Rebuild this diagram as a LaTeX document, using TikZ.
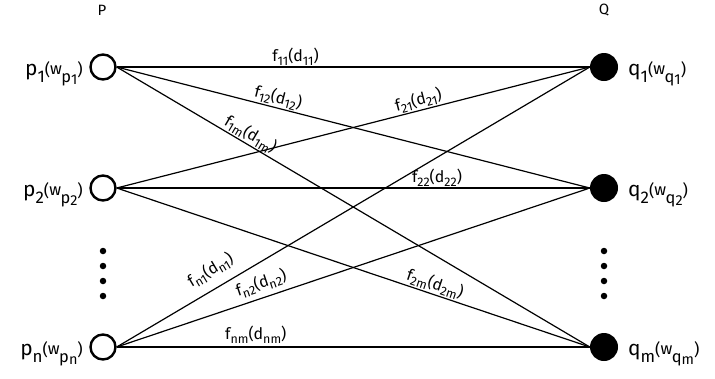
\documentclass[tikz,border=0pt]{standalone}
\usepackage{fontspec}
\setmainfont{Fira Sans}
\newcommand\PQlab[2]{{\fontsize{21}{24}\selectfont #1}\raisebox{-6.5bp}{\fontsize{17}{20}\selectfont #2}{\fontsize{16.5}{19}\selectfont(\raisebox{1.5bp}{w}\kern-0.5bp\raisebox{-6.5bp}{#1\raisebox{-2bp}{\fontsize{14.5}{16}\selectfont #2}})}}
\newcommand\Flab[1]{f\raisebox{-3.5bp}{\fontsize{12.5}{15}\selectfont #1}(d\raisebox{-3.5bp}{\fontsize{12.5}{15}\selectfont #1})}
\begin{document}
\begin{tikzpicture}[x=1bp,y=-1bp,
  pnode/.style={circle,draw,line width=2.4bp,minimum size=25bp,inner sep=0pt},
  qnode/.style={circle,fill,minimum size=28bp,inner sep=0pt},
  vdot/.style={circle,fill,minimum size=6.5bp,inner sep=0pt},
  nlab/.style={inner sep=0pt},
  elab/.style={font=\fontsize{16}{20}\selectfont,inner sep=1bp,sloped,above},
  edge/.style={line width=1.2bp},
  hdr/.style={font=\fontsize{15}{18}\selectfont}]
\useasboundingbox (0,0) rectangle (715,378);
\node[hdr] (P) at (102,10) {P};
\node[hdr] (Q) at (604,10) {Q};
\node[pnode] (p1) at (103,67) {};
\node[pnode] (p2) at (103,188) {};
\node[pnode] (pn) at (103,347) {};
\node[qnode] (q1) at (604,67) {};
\node[qnode] (q2) at (604,188) {};
\node[qnode] (qm) at (604,347) {};
\node[nlab,anchor=base east] (lp1) at (83,75.5) {\PQlab{p}{1}};
\node[nlab,anchor=base east] (lp2) at (83,196.5) {\PQlab{p}{2}};
\node[nlab,anchor=base east] (lpn) at (83,355.5) {\PQlab{p}{n}};
\node[nlab,anchor=base west] (lq1) at (628,75.5) {\PQlab{q}{1}};
\node[nlab,anchor=base west] (lq2) at (628,196.5) {\PQlab{q}{2}};
\node[nlab,anchor=base west] (lqm) at (628,355.5) {\PQlab{q}{m}};
\foreach \i/\y in {1/251,2/266,3/281,4/296}{
  \node[vdot] (pd\i) at (103,\y) {};
  \node[vdot] (qd\i) at (604,\y) {};
}
\draw[edge] (p1.east) -- node[elab,pos=0.378] {\Flab{11}} (q1.west);
\draw[edge] (p1.east) -- node[elab,pos=0.336] {\Flab{12}} (q2.west);
\draw[edge] (p1.east) -- node[elab,pos=0.272] {\Flab{1m}} (qm.west);
\draw[edge] (p2.east) -- node[elab,pos=0.643] {\Flab{21}} (q1.west);
\draw[edge] (p2.east) -- node[elab,pos=0.677] {\Flab{22}} (q2.west);
\draw[edge] (p2.east) -- node[elab,pos=0.666] {\Flab{2m}} (qm.west);
\draw[edge] (pn.east) -- node[elab,pos=0.218,above=8bp] {\Flab{n1}} (q1.west);
\draw[edge] (pn.east) -- node[elab,pos=0.315,above=4bp] {\Flab{n2}} (q2.west);
\draw[edge] (pn.east) -- node[elab,pos=0.294,above=2bp] {\Flab{nm}} (qm.west);
\end{tikzpicture}
\end{document}
